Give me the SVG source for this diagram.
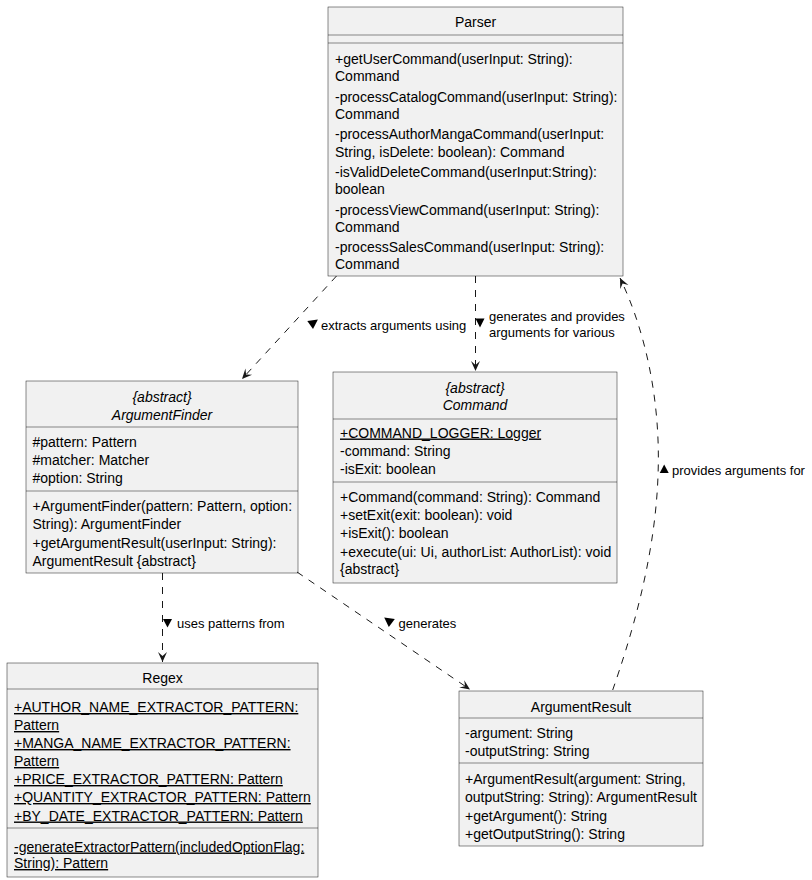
<svg xmlns="http://www.w3.org/2000/svg" width="812" height="880" viewBox="0 0 812 880">
<defs>
<marker id="arr" markerWidth="12" markerHeight="10" viewBox="-11 -5 12 10" refX="0" refY="0" orient="auto" markerUnits="userSpaceOnUse">
<path d="M0,0 L-10,-4.5 L-6,0 L-10,4.5 Z" fill="#181818"/>
</marker>
<style>
.box{fill:#F1F1F1;stroke:#181818;stroke-width:0.5}
.sep{stroke:#181818;stroke-width:0.5}
text{font-family:"Liberation Sans",Arial,sans-serif;fill:#000}
.t{font-size:14px;text-anchor:middle}
.ti{font-size:14px;text-anchor:middle;font-style:italic}
.m{font-size:14px}
.u{font-size:14px;text-decoration:underline}
.lbl{font-size:13px}
.edge{fill:none;stroke:#181818;stroke-width:1;stroke-dasharray:7,7}
.tri{fill:#000}
</style>
</defs>
<rect width="812" height="880" fill="#FFFFFF"/>

<g id="Parser">
<rect class="box" x="328" y="7" width="295" height="269"/>
<text class="t" x="475.5" y="27">Parser</text>
<line class="sep" x1="328" y1="35" x2="623" y2="35"/>
<line class="sep" x1="328" y1="43" x2="623" y2="43"/>
<text class="m" x="335" y="64">+getUserCommand(userInput: String):</text>
<text class="m" x="335" y="81">Command</text>
<text class="m" x="335" y="102">-processCatalogCommand(userInput: String):</text>
<text class="m" x="335" y="119">Command</text>
<text class="m" x="335" y="139">-processAuthorMangaCommand(userInput:</text>
<text class="m" x="335" y="157">String, isDelete: boolean): Command</text>
<text class="m" x="335" y="177">-isValidDeleteCommand(userInput:String):</text>
<text class="m" x="335" y="194">boolean</text>
<text class="m" x="335" y="215">-processViewCommand(userInput: String):</text>
<text class="m" x="335" y="232">Command</text>
<text class="m" x="335" y="252">-processSalesCommand(userInput: String):</text>
<text class="m" x="335" y="269">Command</text>
</g>

<g id="ArgumentFinder">
<rect class="box" x="26" y="381" width="272" height="192"/>
<text class="ti" x="162" y="401.5">{abstract}</text>
<text class="ti" x="162" y="420">ArgumentFinder</text>
<line class="sep" x1="26" y1="427" x2="298" y2="427"/>
<text class="m" x="32.5" y="446.5">#pattern: Pattern</text>
<text class="m" x="32.5" y="465">#matcher: Matcher</text>
<text class="m" x="32.5" y="483">#option: String</text>
<line class="sep" x1="26" y1="491" x2="298" y2="491"/>
<text class="m" x="32.5" y="511">+ArgumentFinder(pattern: Pattern, option:</text>
<text class="m" x="32.5" y="529">String): ArgumentFinder</text>
<text class="m" x="32.5" y="547.5">+getArgumentResult(userInput: String):</text>
<text class="m" x="32.5" y="566">ArgumentResult {abstract}</text>
</g>

<g id="Command">
<rect class="box" x="333" y="372" width="284" height="211"/>
<text class="ti" x="475" y="393">{abstract}</text>
<text class="ti" x="475" y="410">Command</text>
<line class="sep" x1="333" y1="419" x2="617" y2="419"/>
<text class="u" x="340" y="437.5">+COMMAND_LOGGER: Logger</text>
<text class="m" x="340" y="456">-command: String</text>
<text class="m" x="340" y="474">-isExit: boolean</text>
<line class="sep" x1="333" y1="482" x2="617" y2="482"/>
<text class="m" x="340" y="501.5">+Command(command: String): Command</text>
<text class="m" x="340" y="520">+setExit(exit: boolean): void</text>
<text class="m" x="340" y="538">+isExit(): boolean</text>
<text class="m" x="340" y="556.5">+execute(ui: Ui, authorList: AuthorList): void</text>
<text class="m" x="340" y="574">{abstract}</text>
</g>

<g id="Regex">
<rect class="box" x="7" y="663" width="311" height="214"/>
<text class="t" x="162.5" y="683">Regex</text>
<line class="sep" x1="7" y1="689" x2="318" y2="689"/>
<text class="u" x="14" y="712">+AUTHOR_NAME_EXTRACTOR_PATTERN:</text>
<text class="u" x="14" y="730">Pattern</text>
<text class="u" x="14" y="748">+MANGA_NAME_EXTRACTOR_PATTERN:</text>
<text class="u" x="14" y="766">Pattern</text>
<text class="u" x="14" y="784">+PRICE_EXTRACTOR_PATTERN: Pattern</text>
<text class="u" x="14" y="802">+QUANTITY_EXTRACTOR_PATTERN: Pattern</text>
<text class="u" x="14" y="820.5">+BY_DATE_EXTRACTOR_PATTERN: Pattern</text>
<line class="sep" x1="7" y1="828" x2="318" y2="828"/>
<text class="u" x="14" y="851.5">-generateExtractorPattern(includedOptionFlag:</text>
<text class="u" x="14" y="868">String): Pattern</text>
</g>

<g id="ArgumentResult">
<rect class="box" x="459" y="691" width="244" height="155"/>
<text class="t" x="581" y="711.5">ArgumentResult</text>
<line class="sep" x1="459" y1="718" x2="703" y2="718"/>
<text class="m" x="465" y="738">-argument: String</text>
<text class="m" x="465" y="755.5">-outputString: String</text>
<line class="sep" x1="459" y1="763" x2="703" y2="763"/>
<text class="m" x="465" y="784">+ArgumentResult(argument: String,</text>
<text class="m" x="465" y="802">outputString: String): ArgumentResult</text>
<text class="m" x="465" y="821">+getArgument(): String</text>
<text class="m" x="465" y="839">+getOutputString(): String</text>
</g>

<g id="connectors">
<path class="edge" d="M336.5,276 L242,379" marker-end="url(#arr)"/>
<polygon class="tri" points="317.9,319.6 313,329.1 307.3,320.9"/>
<text class="lbl" x="321" y="330">extracts arguments using</text>

<path class="edge" d="M475.5,276 L475.5,371" marker-end="url(#arr)"/>
<polygon class="tri" points="475.5,318.5 484.5,318.5 480,327.5"/>
<text class="lbl" x="489" y="321">generates and provides</text>
<text class="lbl" x="489" y="337">arguments for various</text>

<path class="edge" d="M162.5,573 L162.5,662" marker-end="url(#arr)"/>
<polygon class="tri" points="163,619 172,619 167.5,627.5"/>
<text class="lbl" x="177" y="628">uses patterns from</text>

<path class="edge" d="M297,572 L470,689.5" marker-end="url(#arr)"/>
<polygon class="tri" points="384.2,617.4 394.8,619.1 388.8,627.1"/>
<text class="lbl" x="398.5" y="628">generates</text>

<path class="edge" d="M612.7,690 C630,640 655,560 658,476 C661,400 645,330 620,278" marker-end="url(#arr)"/>
<polygon class="tri" points="664.2,464.5 668.7,473 659.7,473"/>
<text class="lbl" x="672" y="475">provides arguments for</text>
</g>
</svg>
